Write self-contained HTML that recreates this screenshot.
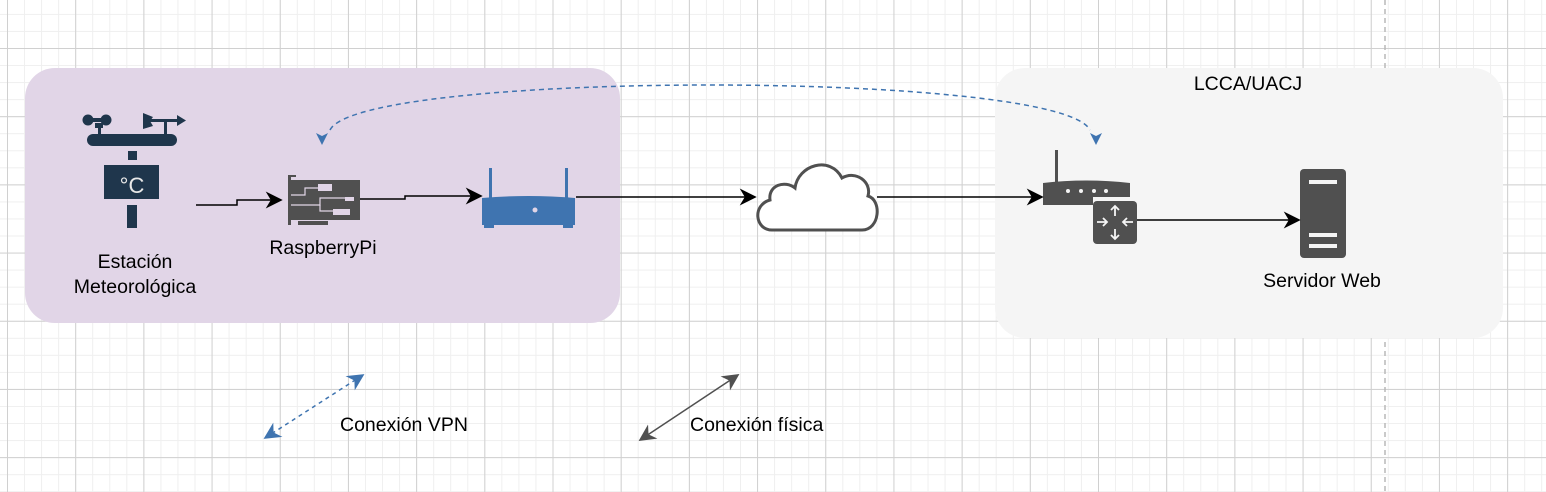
<!DOCTYPE html>
<html><head><meta charset="utf-8"><style>
html,body{margin:0;padding:0;width:1546px;height:492px;overflow:hidden;background:#fff}
.bg{position:absolute;left:0;top:0;width:1546px;height:492px;
background-image:
linear-gradient(to right,#d0d0d0 1px,transparent 1px),
linear-gradient(to bottom,#d0d0d0 1px,transparent 1px),
linear-gradient(to right,#efefef 1px,transparent 1px),
linear-gradient(to bottom,#efefef 1px,transparent 1px);
background-size:68.2px 68.2px,68.2px 68.2px,17.05px 17.05px,17.05px 17.05px;
background-position:7px 48px,7px 48px,7px 48px,7px 48px}
svg{position:absolute;left:0;top:0}
text{font-family:"Liberation Sans",sans-serif;font-size:19.5px;fill:#000}
</style></head><body><div class="bg"></div>
<svg width="1546" height="492" viewBox="0 0 1546 492">
<defs>
<marker id="ab2" viewBox="0 0 10 10" refX="9" refY="5" markerWidth="17" markerHeight="17" orient="auto-start-reverse" markerUnits="userSpaceOnUse"><path d="M0,0 L10,5 L0,10 L3,5z" fill="#000"/></marker>
<marker id="ag" viewBox="0 0 10 10" refX="9" refY="5" markerWidth="17" markerHeight="17" orient="auto-start-reverse" markerUnits="userSpaceOnUse"><path d="M0,0 L10,5 L0,10 L3,5z" fill="#505050"/></marker>
<marker id="abl" viewBox="0 0 10 10" refX="9" refY="5" markerWidth="17" markerHeight="17" orient="auto-start-reverse" markerUnits="userSpaceOnUse"><path d="M0,0 L10,5 L0,10 L3,5z" fill="#3f74b0"/></marker>
</defs>
<line x1="1385" y1="0" x2="1385" y2="492" stroke="#b8b8b8" stroke-width="1.5" stroke-dasharray="5,4"/>
<rect x="25" y="68" width="595" height="255" rx="30" fill="#e1d5e7"/>
<rect x="995" y="68" width="508" height="270" rx="30" fill="#f5f5f5"/>
<text x="1248" y="90" text-anchor="middle">LCCA/UACJ</text>

<!-- weather station -->
<g fill="#1f364c">
<circle cx="88" cy="120" r="5.5"/><circle cx="106" cy="120" r="5.5"/><rect x="88" y="118" width="18" height="4"/>
<rect x="95" y="123" width="8" height="5"/><rect x="98" y="128" width="3" height="6"/>
<path d="M143,113 L153,117 L150,121 L153,126 L143,129 Z"/><rect x="150" y="119" width="30" height="3"/><path d="M177,115 L186,120.5 L177,126 Z"/>
<rect x="164" y="121" width="3" height="13"/>
<rect x="87" y="134" width="90" height="12" rx="6"/>
<rect x="128" y="151" width="9" height="9"/>
<rect x="104" y="165" width="55" height="34"/>
<rect x="127" y="205" width="10" height="23"/>
</g>
<text x="132" y="193" text-anchor="middle" style="fill:#e8e8e8;font-size:22px">°C</text>
<text x="135" y="268" text-anchor="middle">Estación</text>
<text x="135" y="293" text-anchor="middle">Meteorológica</text>

<!-- raspberry card -->
<g fill="#505050">
<rect x="288" y="175" width="3" height="50"/><rect x="288" y="175" width="8" height="2"/>
<rect x="291" y="180" width="69" height="40"/>
<rect x="298" y="221" width="30" height="4"/>
</g>
<g fill="none" stroke="#e1d5e7" stroke-width="1.2">
<path d="M291,195 H305 V188 H318"/><path d="M291,205 H320 V198 H345"/><path d="M320,205 V211 H333"/>
</g>
<g fill="#e1d5e7"><rect x="318" y="184" width="14" height="7"/><rect x="333" y="209" width="17" height="6"/><rect x="345" y="197" width="9" height="4"/></g>
<text x="323" y="254" text-anchor="middle">RaspberryPi</text>

<!-- blue router -->
<g fill="#3f74b0">
<rect x="489" y="168" width="3" height="30"/><rect x="565" y="168" width="3" height="30"/>
<path d="M482,198 Q528,194 575,198 L575,225 L482,225 Z"/>
<rect x="484" y="224" width="10" height="4"/><rect x="563" y="224" width="10" height="4"/>
</g>
<circle cx="535" cy="210" r="2.5" fill="#e1d5e7"/>

<!-- cloud -->
<path d="M772,230 C755,230 752,205 770,200 C768,185 785,180 795,188 C798,165 830,155 842,178 C856,170 872,182 868,196 C882,200 880,230 862,230 Z" fill="#fff" stroke="#505050" stroke-width="3"/>

<!-- gray router + switch -->
<g fill="#505050">
<rect x="1055" y="150" width="3" height="33"/>
<path d="M1043,183 Q1086,178 1130,183 L1130,197 L1093,197 L1093,205 L1043,205 Z"/>
<rect x="1093" y="201" width="44" height="43" rx="4"/>
<rect x="1300" y="169" width="46" height="89" rx="4"/>
</g>
<g fill="#f5f5f5"><circle cx="1068" cy="191" r="2"/><circle cx="1081" cy="191" r="2"/><circle cx="1094" cy="191" r="2"/><circle cx="1106" cy="191" r="2"/>
<rect x="1309" y="180" width="28" height="4"/><rect x="1309" y="233" width="28" height="4"/><rect x="1309" y="244" width="28" height="4"/></g>
<g stroke="#f5f5f5" stroke-width="1.8" fill="none">
<path d="M1115,206 V216 M1111,210 L1115,206 L1119,210"/>
<path d="M1115,229 V239 M1111,235 L1115,239 L1119,235"/>
<path d="M1097,222 H1107 M1103,218 L1107,222 L1103,226"/>
<path d="M1123,222 H1133 M1127,218 L1123,222 L1127,226"/>
</g>
<text x="1322" y="287" text-anchor="middle">Servidor Web</text>

<!-- connectors -->
<g stroke="#000" stroke-width="1.5" fill="none">
<path d="M196,205 H237 V200 H281" marker-end="url(#ab2)"/>
<path d="M360,199 H405 V196 H481" marker-end="url(#ab2)"/>
<path d="M576,197 H755" marker-end="url(#ab2)"/>
<path d="M877,197 H1042" marker-end="url(#ab2)"/>
<path d="M1137,220 H1299" marker-end="url(#ab2)"/>
</g>
<path d="M330,130 C360,70 1060,70 1090,130" fill="none" stroke="#3f74b0" stroke-width="1.5" stroke-dasharray="5,4"/>
<path d="M322,145 L316,133 L322,136 L328,133 Z" fill="#3f74b0"/>
<path d="M1096,145 L1090,133 L1096,136 L1102,133 Z" fill="#3f74b0"/>

<!-- legend -->
<line x1="265" y1="438" x2="363" y2="375" stroke="#3f74b0" stroke-width="1.5" stroke-dasharray="4,4" marker-start="url(#abl)" marker-end="url(#abl)"/>
<line x1="640" y1="440" x2="738" y2="375" stroke="#505050" stroke-width="1.5" marker-start="url(#ag)" marker-end="url(#ag)"/>
<text x="340" y="431">Conexión VPN</text>
<text x="690" y="431">Conexión física</text>
</svg></body></html>
